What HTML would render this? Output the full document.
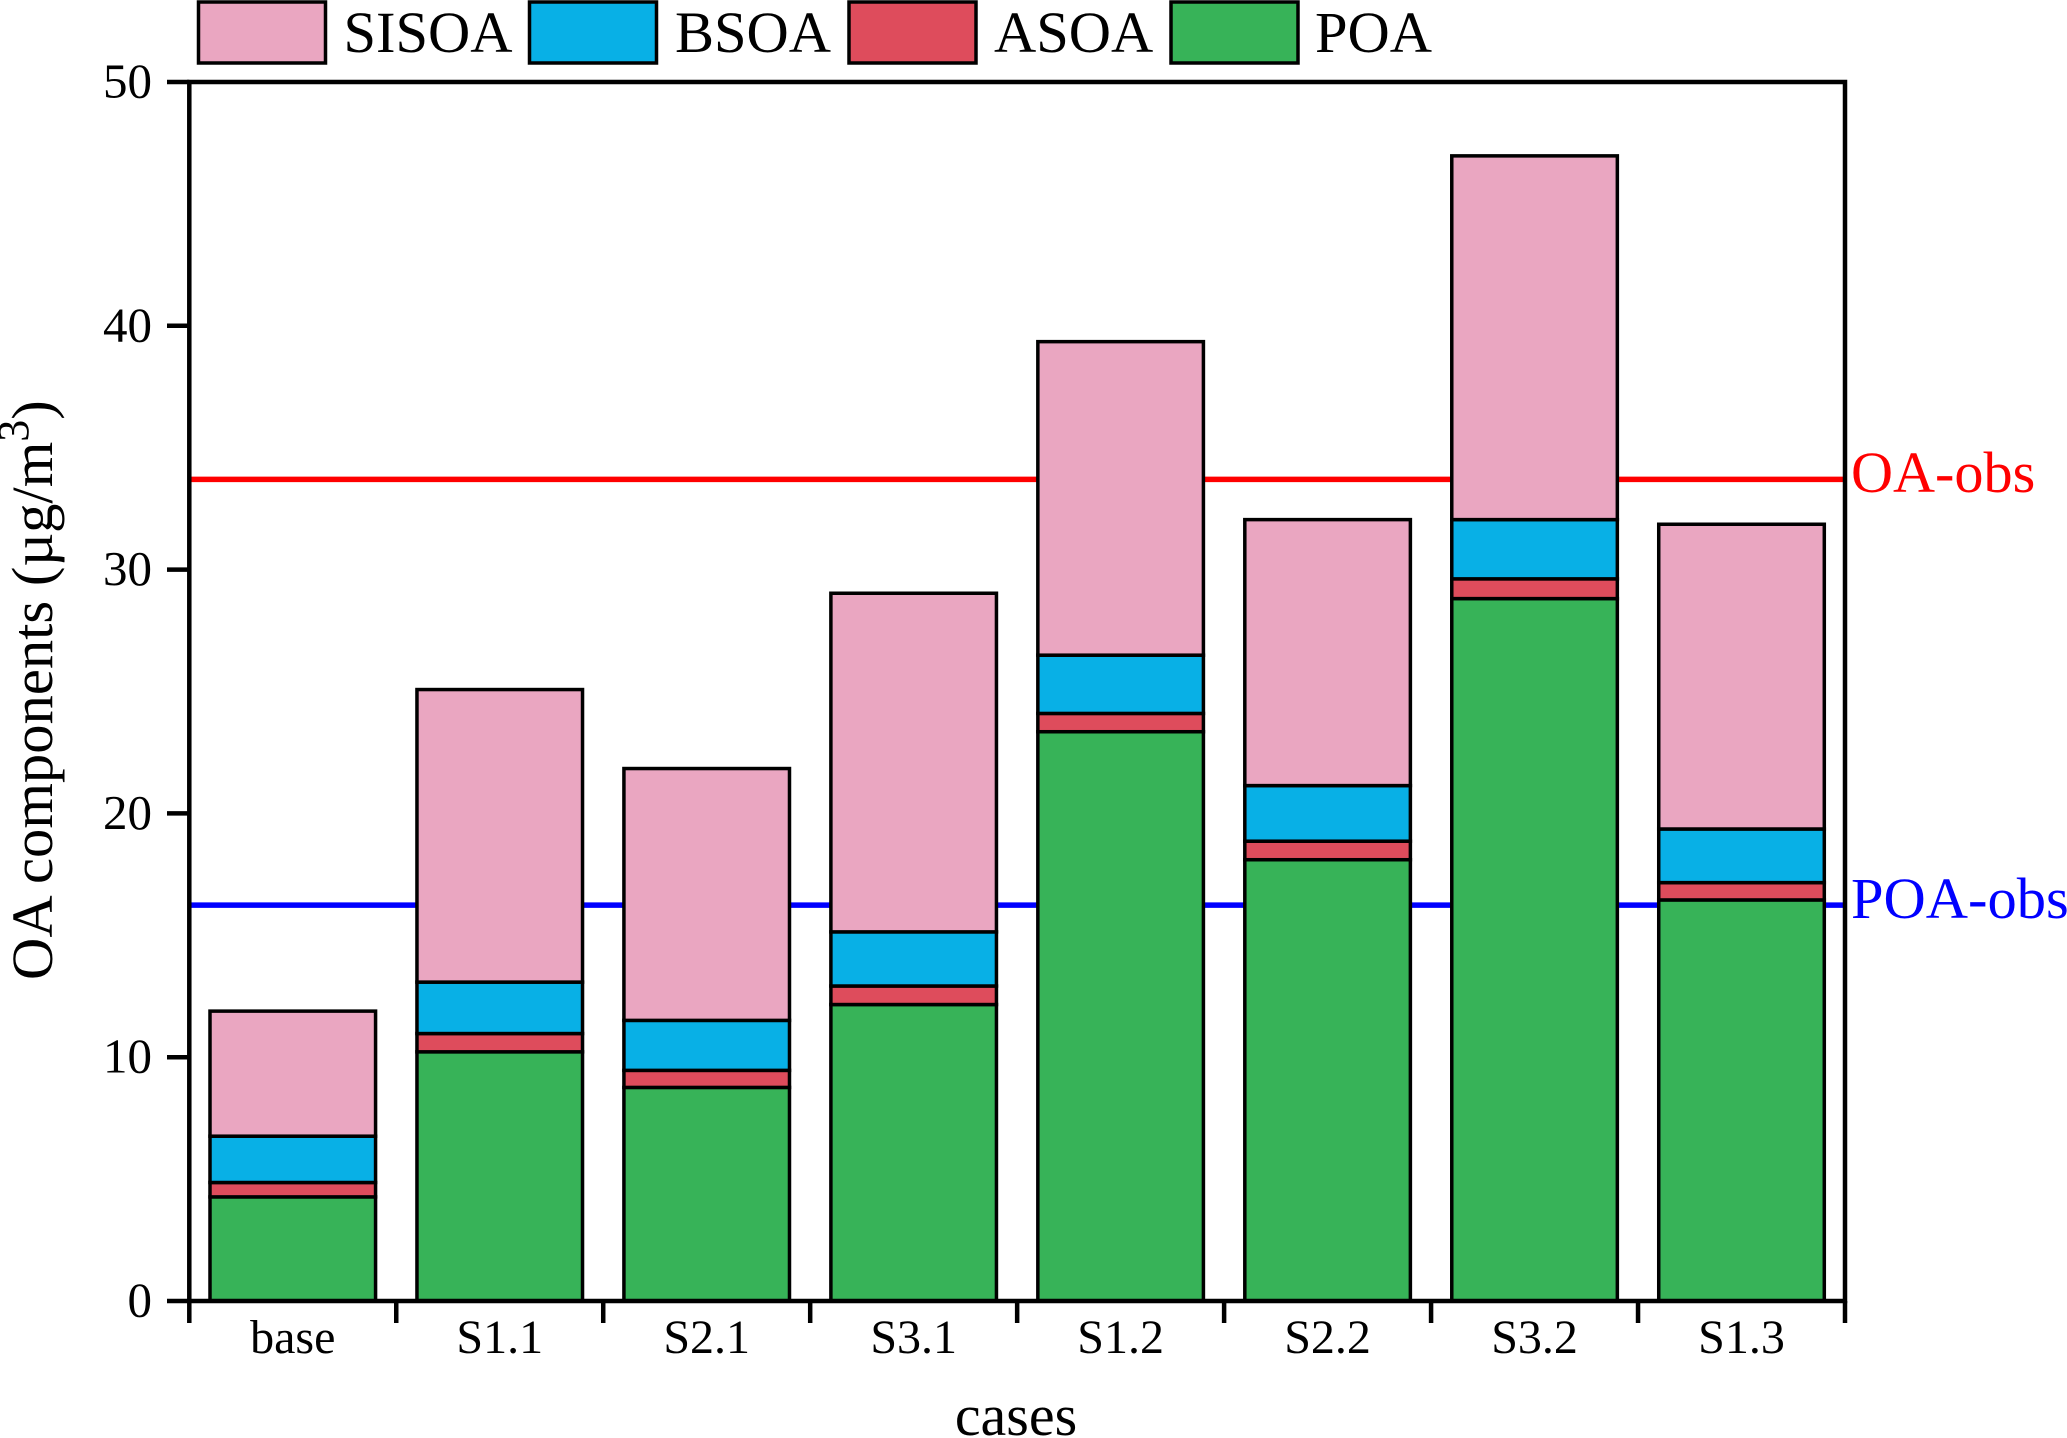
<!DOCTYPE html>
<html lang="en">
<head>
<meta charset="utf-8">
<title>OA components by case</title>
<style>
html,body{margin:0;padding:0;background:#fff;}
svg{display:block;}
text{font-family:"Liberation Serif","Times New Roman",serif;fill:#000;}
</style>
</head>
<body>
<svg id="chart" xmlns="http://www.w3.org/2000/svg" width="2067" height="1438" viewBox="0 0 2067 1438">
  <rect x="0" y="0" width="2067" height="1438" fill="#fff"/>
  <g id="ref-lines"></g>
  <g id="bars"></g>
  <g id="axes"></g>
  <g id="tick-labels"></g>

  <g>
    <g>
      <rect x="198.5" y="2" width="127" height="61" fill="#EAA6C1" stroke="#000" stroke-width="3.5"/>
      <text x="343.5" y="52" font-size="58.5">SISOA</text>
    </g>
    <g>
      <rect x="529.5" y="2" width="127" height="61" fill="#08B0E6" stroke="#000" stroke-width="3.5"/>
      <text x="675" y="52" font-size="58.5">BSOA</text>
    </g>
    <g>
      <rect x="849" y="2" width="127" height="61" fill="#DE4C5C" stroke="#000" stroke-width="3.5"/>
      <text x="994" y="52" font-size="58.5">ASOA</text>
    </g>
    <g>
      <rect x="1171" y="2" width="127" height="61" fill="#37B358" stroke="#000" stroke-width="3.5"/>
      <text x="1315" y="52" font-size="58.5">POA</text>
    </g>
  </g>

  <text transform="translate(52,980) rotate(-90)" font-size="58.6">OA components (µg/m<tspan font-size="44" dy="-24">3</tspan><tspan dy="24">)</tspan></text>
  <text x="1016" y="1435" font-size="58" text-anchor="middle">cases</text>
  <text x="1851" y="492" font-size="58.2" style="fill:#FF0000">OA-obs</text>
  <text x="1851" y="918" font-size="58.5" style="fill:#0000FF">POA-obs</text>
</svg>

<script>
const categories = ["base", "S1.1", "S2.1", "S3.1", "S1.2", "S2.2", "S3.2", "S1.3"];
const poaValues = [4.27, 10.22, 8.76, 12.16, 23.35, 18.10, 28.81, 16.45];
const asoaValues = [0.59, 0.75, 0.70, 0.76, 0.75, 0.76, 0.81, 0.71];
const bsoaValues = [1.90, 2.11, 2.05, 2.22, 2.39, 2.28, 2.43, 2.20];
const sisoaValues = [5.13, 12.00, 10.33, 13.89, 12.86, 10.91, 14.92, 12.50];
const yTickValues = [0, 10, 20, 30, 40, 50];
const oaObsValue = 33.7;
const poaObsValue = 16.24;

const NS = "http://www.w3.org/2000/svg";
const plotLeft = 189.3, plotRight = 1845, plotTop = 82, plotBottom = 1301;
const yMin = 0, yMax = 50;
const bandWidth = (plotRight - plotLeft) / categories.length;
const barWidth = bandWidth * 0.8;

function yScale(v) {
  return plotBottom - (v - yMin) / (yMax - yMin) * (plotBottom - plotTop);
}
function xBand(i) {
  return plotLeft + bandWidth * i;
}
function xCenter(i) {
  return xBand(i) + bandWidth / 2;
}
function make(tag, attrs, parent) {
  const el = document.createElementNS(NS, tag);
  for (const k in attrs) el.setAttribute(k, attrs[k]);
  parent.appendChild(el);
  return el;
}

const refLayer = document.getElementById("ref-lines");
const barLayer = document.getElementById("bars");
const axisLayer = document.getElementById("axes");
const labelLayer = document.getElementById("tick-labels");

// Observation reference lines
const oaLine = make("line", {x1: plotLeft, x2: plotRight, y1: yScale(oaObsValue), y2: yScale(oaObsValue), stroke: "#FF0000", "stroke-width": 5.5}, refLayer);


const poaLine = make("line", {x1: plotLeft, x2: plotRight, y1: yScale(poaObsValue), y2: yScale(poaObsValue), stroke: "#0000FF", "stroke-width": 5.5}, refLayer);



// Stacked bars: bottom to top
const stackSeries = [
  {key: "poa", values: poaValues, color: "#37B358"},
  {key: "asoa", values: asoaValues, color: "#DE4C5C"},
  {key: "bsoa", values: bsoaValues, color: "#08B0E6"},
  {key: "sisoa", values: sisoaValues, color: "#EAA6C1"}
];
categories.forEach(function (cat, i) {
  let running = 0;
  stackSeries.forEach(function (s) {
    const y0 = yScale(running);
    const y1 = yScale(running + s.values[i]);
    running += s.values[i];
    const r = make("rect", {
      x: xCenter(i) - barWidth / 2,
      y: y1,
      width: barWidth,
      height: y0 - y1,
      fill: s.color,
      stroke: "#000",
      "stroke-width": 3.5
    }, barLayer);
    
    
  });
});

// Axis frame
const frame = make("rect", {
  x: plotLeft, y: plotTop,
  width: plotRight - plotLeft, height: plotBottom - plotTop,
  fill: "none", stroke: "#000", "stroke-width": 4.5
}, axisLayer);



// Y ticks and labels
yTickValues.forEach(function (v) {
  const y = yScale(v);
  const t = make("line", {x1: 167, x2: plotLeft, y1: y, y2: y, stroke: "#000", "stroke-width": 4.5}, axisLayer);
  
  
  const l = make("text", {x: 152, y: y + 15.5, "text-anchor": "end", "font-size": 49}, labelLayer);
  
  
  l.textContent = String(v);
});

// X ticks at band boundaries and category labels
for (let i = 0; i <= categories.length; i++) {
  const x = xBand(i);
  const t = make("line", {x1: x, x2: x, y1: plotBottom, y2: 1323, stroke: "#000", "stroke-width": 4.5}, axisLayer);
  
  
}
categories.forEach(function (cat, i) {
  const l = make("text", {x: xCenter(i), y: 1353, "text-anchor": "middle", "font-size": 48}, labelLayer);
  
  
  l.textContent = cat;
});
</script>
</body>
</html>
